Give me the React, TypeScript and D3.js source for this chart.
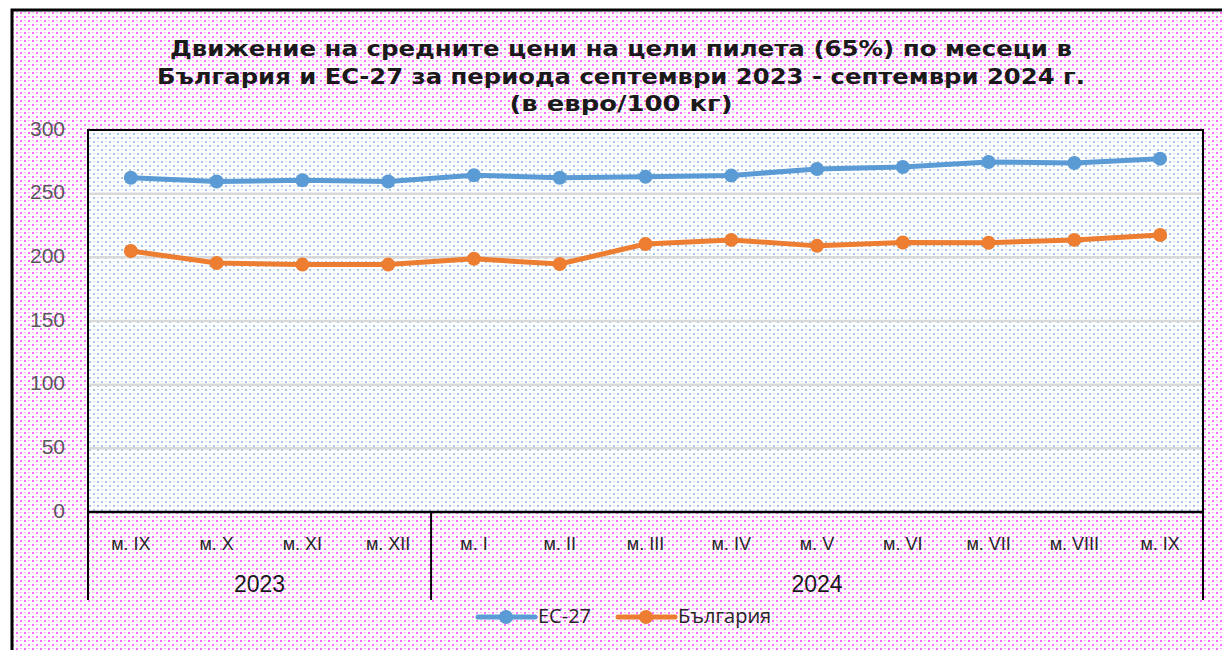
import { line, scaleLinear, scaleBand } from "d3";

const months = ["м. IX", "м. X", "м. XI", "м. XII", "м. I", "м. II", "м. III", "м. IV", "м. V", "м. VI", "м. VII", "м. VIII", "м. IX"];
const years = [
  { label: "2023", from: 0, to: 3 },
  { label: "2024", from: 4, to: 12 },
];
const eu27 = [262.5, 259.5, 260.5, 259.5, 264.5, 262.5, 263.3, 264.3, 269.4, 270.9, 274.9, 274.1, 277.5];
const bulgaria = [205, 195.5, 194.3, 194.3, 198.8, 194.8, 210.5, 213.7, 209, 211.6, 211.5, 213.7, 217.5];
const yTicks = [0, 50, 100, 150, 200, 250, 300];
const titleLines = [
  "Движение на средните цени на цели пилета (65%) по месеци в",
  "България и ЕС-27 за периода септември 2023 - септември 2024 г.",
  "(в евро/100 кг)",
];
const titleWidths = [902, 928, 223];
const seriesList = [
  { name: "ЕС-27", values: eu27, color: "#5b9bd5" },
  { name: "България", values: bulgaria, color: "#ed7d31" },
];

const plotLeft = 88;
const plotRight = 1203;
const plotTop = 130;
const plotBottom = 512;

function App() {
  const x = scaleBand<number>()
    .domain(months.map((_, i) => i))
    .range([plotLeft, plotRight])
    .padding(0);
  const y = scaleLinear().domain([0, 300]).range([plotBottom, plotTop]);
  const cx = (i: number) => (x(i) ?? 0) + x.bandwidth() / 2;
  const builder = line<number>()
    .x((_, i) => cx(i))
    .y((d) => y(d));
  const axisFont = "Liberation Sans, Arial, sans-serif";

  return (
    <div style={{ position: "absolute", left: 0, top: 0 }}>
      <svg width={1222} height={650} style={{ display: "block" }}>
        <defs>
          <pattern id="pinkDots" width={8} height={8} patternUnits="userSpaceOnUse">
            <rect width={8} height={8} fill="#ffffff" />
            <rect x={0} y={0} width={2} height={2} fill="#ff44ff" opacity={0.8} />
            <rect x={4} y={4} width={2} height={2} fill="#ff44ff" opacity={0.8} />
            <rect x={4} y={0} width={2} height={1} fill="#ff66ff" opacity={0.5} />
            <rect x={0} y={4} width={2} height={1} fill="#ff66ff" opacity={0.5} />
          </pattern>
          <pattern id="blueDots" width={8} height={8} patternUnits="userSpaceOnUse">
            <rect width={8} height={8} fill="#ffffff" />
            <rect x={1} y={1} width={2} height={2} fill="#8fb7e2" opacity={0.8} />
            <rect x={5} y={5} width={2} height={2} fill="#8fb7e2" opacity={0.8} />
            <rect x={5} y={1} width={2} height={1} fill="#a9c8ea" opacity={0.5} />
            <rect x={1} y={5} width={2} height={1} fill="#a9c8ea" opacity={0.5} />
          </pattern>
        </defs>
        <rect x={0} y={0} width={1222} height={650} fill="#ffffff" />
        <rect x={12} y={10} width={1230} height={660} fill="url(#pinkDots)" stroke="#000" strokeWidth={3} />
        <rect x={plotLeft} y={plotTop} width={plotRight - plotLeft} height={plotBottom - plotTop} fill="url(#blueDots)" />

        {titleLines.map((t, i) => (
          <text
            key={i}
            x={621}
            y={56 + i * 27.5}
            textAnchor="middle"
            fontFamily="DejaVu Sans, Verdana, sans-serif"
            fontWeight="bold"
            fontSize={22}
            textLength={titleWidths[i]}
            lengthAdjust="spacingAndGlyphs"
            fill="#1a1a1a"
          >
            {t}
          </text>
        ))}

        {yTicks.map((t) => (
          <g key={t}>
            {t > 0 && t < 300 ? (
              <line x1={plotLeft} x2={plotRight} y1={y(t)} y2={y(t)} stroke="#d9d9d9" strokeWidth={2.5} />
            ) : null}
            <text
              x={65}
              y={y(t)}
              textAnchor="end"
              dominantBaseline="middle"
              fontFamily={axisFont}
              fontSize={21}
              fill="#595959"
            >
              {t}
            </text>
          </g>
        ))}

        <path
          d={`M${plotLeft},${plotBottom}V${plotTop}H${plotRight}V${plotBottom}`}
          fill="none"
          stroke="#000"
          strokeWidth={2}
        />
        <line x1={plotLeft - 1} x2={plotRight + 1} y1={plotBottom} y2={plotBottom} stroke="#000" strokeWidth={2.5} />
        {[0, 4, 13].map((i) => {
          const xx = i === 13 ? plotRight : x(i) ?? 0;
          return <line key={i} x1={xx} x2={xx} y1={plotBottom} y2={600} stroke="#000" strokeWidth={2} />;
        })}

        {months.map((m, i) => (
          <text
            key={i}
            x={cx(i)}
            y={545}
            textAnchor="middle"
            dominantBaseline="middle"
            fontFamily={axisFont}
            fontSize={18}
            fill="#262626"
          >
            {m}
          </text>
        ))}
        {years.map((yr) => (
          <text
            key={yr.label}
            x={((x(yr.from) ?? 0) + (x(yr.to) ?? 0) + x.bandwidth()) / 2}
            y={586}
            textAnchor="middle"
            dominantBaseline="middle"
            fontFamily={axisFont}
            fontSize={23}
            fill="#1a1a1a"
          >
            {yr.label}
          </text>
        ))}

        {seriesList.map((s) => (
          <g key={s.name}>
            <path d={builder(s.values) ?? ""} fill="none" stroke={s.color} strokeWidth={5} strokeLinejoin="round" />
            {s.values.map((v, i) => (
              <circle key={i} cx={cx(i)} cy={y(v)} r={7} fill={s.color} />
            ))}
          </g>
        ))}

        {seriesList.map((s, i) => {
          const lx = 478 + i * 140;
          return (
            <g key={s.name}>
              <line x1={lx} x2={lx + 57} y1={617} y2={617} stroke={s.color} strokeWidth={5} strokeLinecap="round" />
              <circle cx={lx + 28} cy={617} r={7} fill={s.color} />
              <text
                x={lx + 60}
                y={618}
                dominantBaseline="middle"
                fontFamily="Open Sans, Noto Sans, sans-serif"
                fontSize={20}
                fill="#262626"
              >
                {s.name}
              </text>
            </g>
          );
        })}
      </svg>
    </div>
  );
}

export default App;
